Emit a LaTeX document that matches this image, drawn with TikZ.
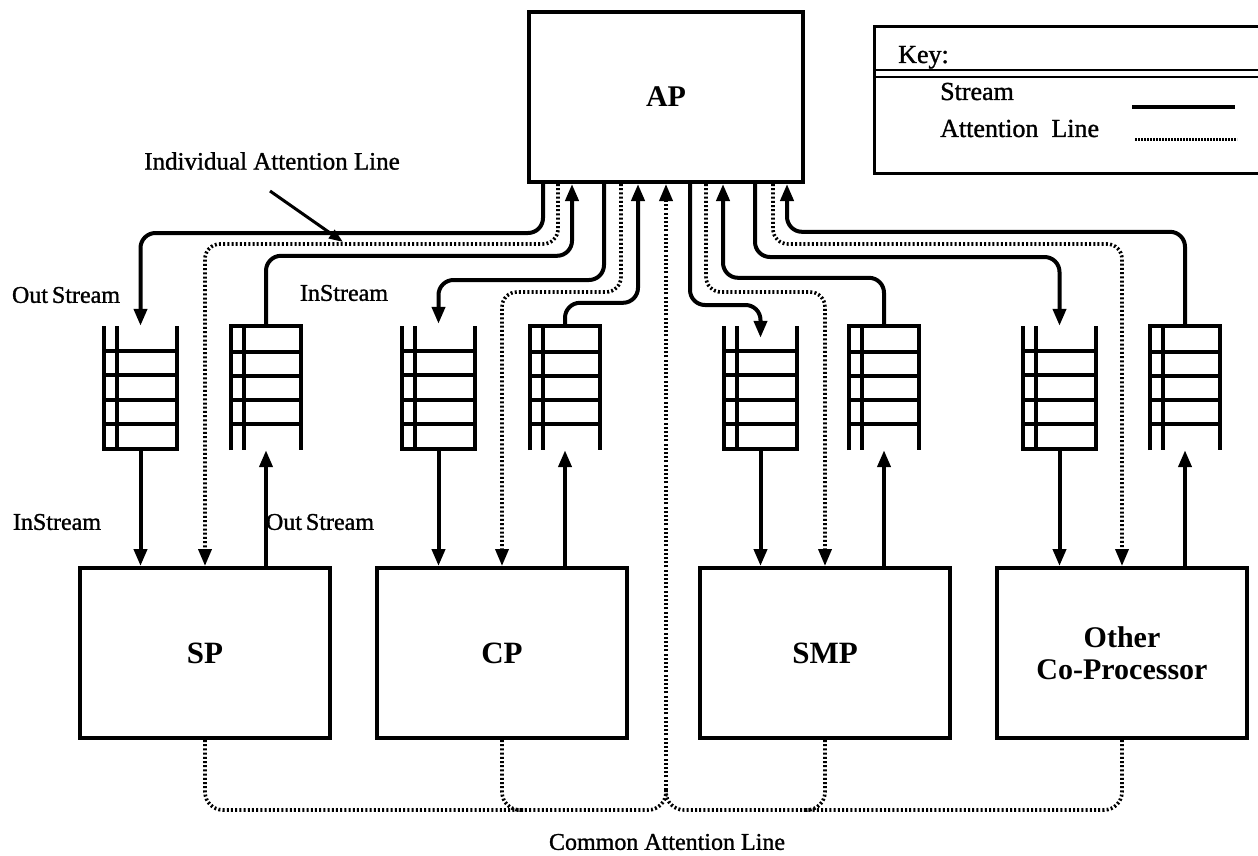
\documentclass[tikz,border=0pt]{standalone}
\usepackage{fontspec}
\setmainfont{Liberation Serif}
\newfontfamily\lblfont[FakeBold=1.2]{Liberation Serif}
\usetikzlibrary{arrows.meta}
\begin{document}
\begin{tikzpicture}[x=1pt,y=-1pt,
  procbox/.style={draw, line width=4pt, rectangle, minimum width=250pt, minimum height=170pt,
    font=\fontsize{31}{32}\selectfont\bfseries, inner sep=0pt, align=center},
  stream/.style={line width=4pt, rounded corners=15pt},
  attn/.style={line width=3.6pt, line cap=butt, dash pattern=on 2pt off 2.2pt, rounded corners=15pt},
  tipd/.style={-{Triangle[length=17pt,width=13pt]}},
  lbl/.style={font=\lblfont\fontsize{24}{26}\selectfont, inner sep=0pt},
  keylbl/.style={font=\lblfont\fontsize{26}{28}\selectfont, inner sep=0pt},
  qline/.style={line width=4pt},
  cline/.style={line width=3.5pt},
  pointer/.style={line width=3pt, -{Triangle[length=14pt,width=10pt]}},
  outq/.pic={
    \draw[qline] (0,0) -- (0,123) -- (73,123) -- (73,0);
    \draw[qline] (13,0) -- (13,123);
    \foreach \yy in {25,49,74,98} \draw[cline] (0,\yy) -- (73,\yy);
    \node[inner sep=0pt, minimum width=73pt, minimum height=124pt] (-q) at (36.5,62) {};
  },
  inq/.pic={
    \draw[qline] (0,124) -- (0,0) -- (70,0) -- (70,124);
    \draw[qline] (13,0) -- (13,124);
    \foreach \yy in {26,50,74,98} \draw[cline] (0,\yy) -- (70,\yy);
    \node[inner sep=0pt, minimum width=70pt, minimum height=124pt] (-q) at (35,62) {};
  }
]
\useasboundingbox (0,0) rectangle (1258,856);
\clip (0,0) rectangle (1258,856);

% processors
\node[procbox, minimum width=274pt, font=\fontsize{30}{32}\selectfont\bfseries] (AP) at (666,97) {AP};
\node[procbox] (SP) at (205,653) {SP};
\node[procbox] (CP) at (502,653) {CP};
\node[procbox] (SMP) at (825,653) {SMP};
\node[procbox, font=\fontsize{30}{32}\selectfont\bfseries] (OT) at (1122,653) {Other\\Co-Processor};

% queues
\pic (spo) at (104,326) {outq};
\pic (spi) at (231,326) {inq};
\pic (cpo) at (402,326) {outq};
\pic (cpi) at (530,326) {inq};
\pic (smpo) at (724,326) {outq};
\pic (smpi) at (849,326) {inq};
\pic (oto) at (1023,326) {outq};
\pic (oti) at (1150,326) {inq};

% AP <-> queues and attention lines
\draw[stream,tipd] ([xshift=16pt]AP.south west) -- ++(0,49) -| (spo-q.north);
\draw[attn,tipd] ([xshift=31pt]AP.south west) -- ++(0,60) -| (SP.north);
\draw[stream,tipd] (spi-q.north) -- ++(0,-70) -| ([xshift=45pt]AP.south west);

\draw[stream,tipd] ([xshift=77pt]AP.south west) -- ++(0,96) -| ([yshift=2pt]cpo-q.north);
\draw[attn,tipd] ([xshift=94pt]AP.south west) -- ++(0,108) -| (CP.north);
\draw[stream,tipd] (cpi-q.north) -- ++(0,-23) -| ([xshift=111pt]AP.south west);

\draw[stream,tipd] ([xshift=163pt]AP.south west) -- ++(0,121) -| ([yshift=-12pt]smpo-q.north);
\draw[attn,tipd] ([xshift=179pt]AP.south west) -- ++(0,108) -| (SMP.north);
\draw[stream,tipd] (smpi-q.north) -- ++(0,-48) -| ([xshift=196pt]AP.south west);

\draw[stream,tipd] ([xshift=228pt]AP.south west) -- ++(0,73) -| (oto-q.north);
\draw[attn,tipd] ([xshift=246pt]AP.south west) -- ++(0,60) -| (OT.north);
\draw[stream,tipd] (oti-q.north) -- ++(0,-94) -| ([xshift=260pt]AP.south west);

% queues <-> processors
\foreach \q/\p in {spo/SP, cpo/CP, smpo/SMP, oto/OT}
  \draw[stream,tipd] (\q-q.south) -- (\q-q.south |- \p.north);
\foreach \q/\p in {spi/SP, cpi/CP, smpi/SMP, oti/OT}
  \draw[stream,tipd] (\q-q.south |- \p.north) -- (\q-q.south);

% common attention line
\coordinate (J) at (666,790);
\draw[attn,tipd] (J) -- (AP.south);
\draw[attn,rounded corners=18pt] (SP.south) -- ++(0,70) -| (J);
\draw[attn,rounded corners=18pt] (OT.south) -- ++(0,70) -| (J);
\draw[attn,rounded corners=18pt] (CP.south) |- ++(22,70);
\draw[attn,rounded corners=18pt] (SMP.south) |- ++(-22,70);

% labels
\node[lbl] (lOutA) at (66,295) {Out\,Stream};
\node[lbl] (lInA) at (344,293) {InStream};
\node[lbl] (lInB) at (57,522) {InStream};
\node[lbl] (lOutB) at (320,522) {Out\,Stream};
\node[lbl, font=\lblfont\fontsize{25}{27}\selectfont] (IAL) at (272,161) {Individual Attention Line};
\node[lbl] (CAL) at (667,842) {Common Attention Line};
\coordinate (iaend) at (343,242);
\draw[pointer] ([xshift=-2pt,yshift=-21pt]IAL.south) -- (iaend);

% key
\node[draw, line width=3pt, anchor=north west, minimum width=420pt, minimum height=147pt, inner sep=0pt] (key) at (873,25) {};
\draw[line width=2.5pt] ([yshift=-45pt]key.north west) -- ([yshift=-45pt]key.north east);
\draw[line width=2.5pt] ([yshift=-52pt]key.north west) -- ([yshift=-52pt]key.north east);
\node[keylbl, anchor=base west] (kKey) at (898,63) {Key:};
\node[keylbl, anchor=base west] (kStream) at (940,100) {Stream};
\node[keylbl, anchor=base west] (kAttn) at (940,137) {Attention\ \ Line};
\coordinate (ks1) at (1132,107);
\coordinate (ks2) at (1235,107);
\coordinate (ka1) at (1135,140);
\coordinate (ka2) at (1237,140);
\draw[line width=4pt] (ks1) -- (ks2);
\draw[line width=3pt, dash pattern=on 2pt off 1pt] (ka1) -- (ka2);
\end{tikzpicture}
\end{document}
